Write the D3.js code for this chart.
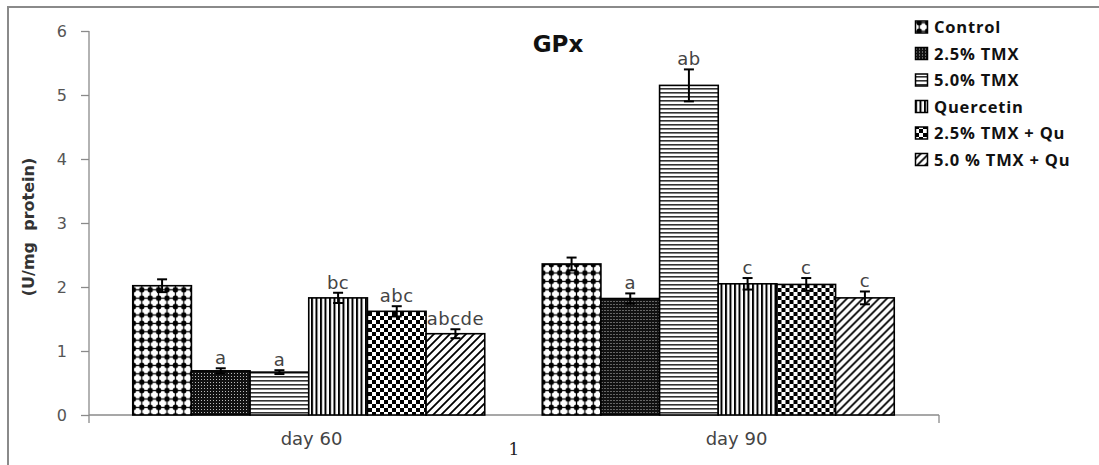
<!DOCTYPE html>
<html><head><meta charset="utf-8">
<script src="https://cdn.jsdelivr.net/npm/d3@7"></script>
<style>body{margin:0;background:#fff}svg{display:block}</style>
</head><body><svg id="c" width="1099" height="465"></svg>
<script>
const categories = ["day 60", "day 90"];
const seriesNames = ["Control", "2.5% TMX", "5.0% TMX", "Quercetin", "2.5% TMX + Qu", "5.0 % TMX + Qu"];
const values = [
  [2.02, 0.69, 0.67, 1.83, 1.62, 1.27],
  [2.36, 1.82, 5.15, 2.05, 2.04, 1.83]
];
const errors = [
  [0.10, 0.04, 0.03, 0.08, 0.08, 0.07],
  [0.10, 0.08, 0.25, 0.09, 0.10, 0.10]
];
const letters = [
  ["", "a", "a", "bc", "abc", "abcde"],
  ["", "a", "ab", "c", "c", "c"]
];
const yTicks = [0, 1, 2, 3, 4, 5, 6];
const title = "GPx";
const yLabel = "(U/mg  protein)";

const svg = d3.select("#c");
const defs = svg.append("defs");

function pat(id, w, h, draw) {
  const p = defs.append("pattern").attr("id", id).attr("patternUnits", "userSpaceOnUse")
    .attr("width", w).attr("height", h);
  draw(p);
}
pat("p0", 8.4, 8.4, p => {
  p.append("rect").attr("width", 8.4).attr("height", 8.4).attr("fill", "#fff");
  p.append("rect").attr("x", 3.6).attr("y", 0).attr("width", 1.2).attr("height", 8.4).attr("fill", "#000");
  p.append("rect").attr("x", 0).attr("y", 3.6).attr("width", 8.4).attr("height", 1.2).attr("fill", "#000");
  p.append("circle").attr("cx", 4.2).attr("cy", 4.2).attr("r", 2.7).attr("fill", "#000");
});
pat("p1", 3, 3, p => {
  p.append("rect").attr("width", 3).attr("height", 3).attr("fill", "#111");
  p.append("rect").attr("x", 1).attr("y", 1).attr("width", 1).attr("height", 1).attr("fill", "#bbb");
});
pat("p2", 4, 4, p => {
  p.append("rect").attr("width", 4).attr("height", 4).attr("fill", "#fff");
  p.append("rect").attr("x", 0).attr("y", 0).attr("width", 4).attr("height", 1.6).attr("fill", "#333");
});
pat("p3", 4.5, 4.5, p => {
  p.append("rect").attr("width", 4.5).attr("height", 4.5).attr("fill", "#fff");
  p.append("rect").attr("x", 0).attr("y", 0).attr("width", 2).attr("height", 4.5).attr("fill", "#000");
});
pat("p4", 8, 8, p => {
  p.append("rect").attr("width", 8).attr("height", 8).attr("fill", "#fff");
  p.append("rect").attr("x", 0).attr("y", 0).attr("width", 4).attr("height", 4).attr("fill", "#000");
  p.append("rect").attr("x", 4).attr("y", 4).attr("width", 4).attr("height", 4).attr("fill", "#000");
});
pat("p5", 8, 8, p => {
  p.append("rect").attr("width", 8).attr("height", 8).attr("fill", "#fff");
  p.append("path").attr("d", "M-2,2 L2,-2 M0,8 L8,0 M6,10 L10,6").attr("stroke", "#000").attr("stroke-width", 1.8);
});
const fills = seriesNames.map((_, i) => `url(#p${i})`);

svg.append("rect").attr("x", 8).attr("y", 7).attr("width", 1200).attr("height", 600)
  .attr("fill", "none").attr("stroke", "#8a8a8a").attr("stroke-width", 2);

const y = d3.scaleLinear().domain([0, 6]).range([415, 31]);
const xAxisScale = d3.scaleBand().domain(categories).range([89, 939]).padding(0);
const x0 = d3.scaleBand().domain(categories).range([104, 923]).padding(0);
const groupW = 352;
const x1 = d3.scaleBand().domain(seriesNames)
  .range([(x0.bandwidth() - groupW) / 2, (x0.bandwidth() + groupW) / 2]).padding(0);

const yAxis = svg.append("g").attr("transform", "translate(89,0)")
  .call(d3.axisLeft(y).tickValues(yTicks).tickSize(8).tickPadding(14).tickFormat(d3.format("d")));
yAxis.select(".domain").attr("d", "M0,31V423").attr("stroke", "#8a8a8a").attr("stroke-width", 1.3);
yAxis.selectAll(".tick line").attr("stroke", "#8a8a8a").attr("stroke-width", 1.3);
yAxis.selectAll(".tick text").attr("font-family", "DejaVu Sans").attr("font-size", 16).attr("fill", "#555");

const xg = svg.append("g");
xg.append("line").attr("x1", 89).attr("x2", xAxisScale.range()[1]).attr("y1", y(0)).attr("y2", y(0))
  .attr("stroke", "#8a8a8a").attr("stroke-width", 1.3);
xg.append("line").attr("x1", xAxisScale.range()[1]).attr("x2", xAxisScale.range()[1])
  .attr("y1", y(0)).attr("y2", y(0) + 8).attr("stroke", "#8a8a8a").attr("stroke-width", 1.3);
xg.selectAll("text.cat").data(categories).join("text").attr("class", "cat")
  .attr("x", d => xAxisScale(d) + xAxisScale.bandwidth() / 2 + 10).attr("y", 445)
  .attr("text-anchor", "middle").attr("font-family", "DejaVu Sans").attr("font-size", 18).attr("fill", "#444")
  .text(d => d);
xg.append("text").attr("x", xAxisScale(categories[1])).attr("y", 455).attr("text-anchor", "middle")
  .attr("font-family", "DejaVu Serif").attr("font-size", 17).attr("fill", "#222").text("1");

const groups = svg.selectAll("g.grp").data(categories).join("g").attr("class", "grp")
  .attr("transform", d => `translate(${x0(d)},0)`);
groups.each(function (cat, ci) {
  const g = d3.select(this);
  const data = seriesNames.map((s, si) => ({ s, si, v: values[ci][si], e: errors[ci][si], l: letters[ci][si] }));
  g.selectAll("rect").data(data).join("rect")
    .attr("x", d => x1(d.s)).attr("y", d => y(d.v)).attr("width", x1.bandwidth())
    .attr("height", d => y(0) - y(d.v)).attr("fill", d => fills[d.si])
    .attr("stroke", "#000").attr("stroke-width", 1.6);
  const eb = g.selectAll("g.err").data(data).join("g").attr("class", "err")
    .attr("transform", d => `translate(${x1(d.s) + x1.bandwidth() / 2},0)`);
  eb.append("line").attr("y1", d => y(d.v + d.e)).attr("y2", d => y(d.v - d.e)).attr("stroke", "#000").attr("stroke-width", 2);
  eb.append("line").attr("x1", -5).attr("x2", 5).attr("y1", d => y(d.v + d.e)).attr("y2", d => y(d.v + d.e)).attr("stroke", "#000").attr("stroke-width", 2);
  eb.append("line").attr("x1", -5).attr("x2", 5).attr("y1", d => y(d.v - d.e)).attr("y2", d => y(d.v - d.e)).attr("stroke", "#000").attr("stroke-width", 2);
  g.selectAll("text.let").data(data).join("text").attr("class", "let")
    .attr("x", d => x1(d.s) + x1.bandwidth() / 2).attr("y", d => y(d.v + d.e) - 4)
    .attr("text-anchor", "middle").attr("font-family", "DejaVu Sans").attr("font-size", 18)
    .attr("letter-spacing", 0.5).attr("fill", "#444")
    .text(d => d.l);
});

svg.append("text").attr("x", 558).attr("y", 52).attr("text-anchor", "middle")
  .attr("font-family", "DejaVu Sans").attr("font-weight", "bold").attr("font-size", 23).attr("fill", "#111").text(title);

svg.append("text").attr("transform", "translate(34,227) rotate(-90)").attr("text-anchor", "middle")
  .attr("font-family", "DejaVu Sans").attr("font-weight", "bold").attr("font-size", 16).attr("fill", "#333")
  .style("white-space", "pre").text(yLabel);

const leg = svg.append("g").attr("transform", "translate(915,27)");
const li = leg.selectAll("g").data(seriesNames).join("g").attr("transform", (d, i) => `translate(0,${i * 26.5})`);
li.append("rect").attr("x", 0.5).attr("y", -6).attr("width", 12).attr("height", 12)
  .attr("fill", (d, i) => fills[i]).attr("stroke", "#000").attr("stroke-width", 1.5);
li.append("text").attr("x", 19).attr("y", 6).attr("font-family", "Open Sans").attr("font-weight", "bold")
  .attr("font-size", 16.5).attr("letter-spacing", 0.8).attr("fill", "#111").text(d => d);
</script></body></html>
